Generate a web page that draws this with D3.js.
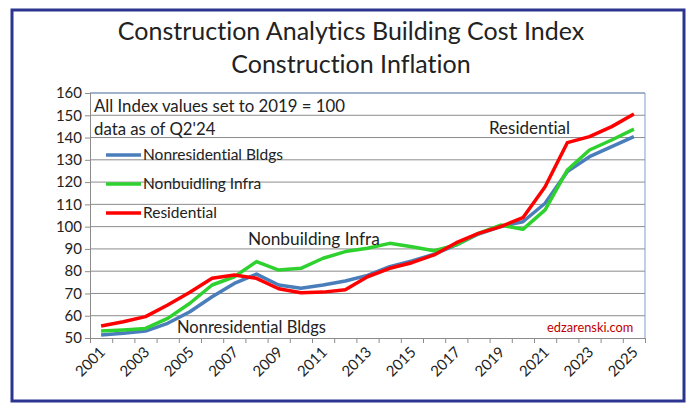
<!DOCTYPE html>
<html>
<head>
<meta charset="utf-8">
<script src="https://cdn.jsdelivr.net/npm/d3@7"></script>
<style>
  body { margin: 0; background: #fff; }
  svg { display: block; font-family: Lato, 'Open Sans', sans-serif; font-variant-ligatures: none; }
  .grid line { stroke: #8c8c8c; stroke-width: 1; }
  .axis path, .axis line { stroke: #8c8c8c; }
  .axis text { fill: #222; }
</style>
</head>
<body>
<svg id="chart"></svg>
<script>
const WIDTH = 688
const HEIGHT = 404

const years = [2001, 2002, 2003, 2004, 2005, 2006, 2007, 2008, 2009, 2010, 2011, 2012, 2013,
  2014, 2015, 2016, 2017, 2018, 2019, 2020, 2021, 2022, 2023, 2024, 2025]
const yTicks = [50, 60, 70, 80, 90, 100, 110, 120, 130, 140, 150, 160]

const nonresidential = [51.3, 52.1, 53.1, 56.6, 61.8, 68.5, 74.5, 78.7, 73.8, 72.3, 73.8, 75.6, 78.1,
  82, 84.6, 87.6, 91.8, 96.7, 100, 102.2, 110.5, 124.7, 131.4, 135.9, 140.4]
const nonbuilding = [53.1, 53.6, 54.3, 58.8, 65.6, 73.8, 77.5, 84.3, 80.5, 81.3, 85.8, 88.8, 90.3,
  92.5, 91, 89.2, 91.8, 97, 100.7, 98.8, 107.5, 125.4, 134.4, 138.9, 143.8]
const residential = [55.4, 57.3, 59.6, 64.8, 70.5, 76.8, 78.3, 76.8, 72.1, 70.3, 70.6, 71.7, 77.5,
  81.3, 83.8, 87.3, 92.8, 97, 100, 104, 117.9, 137.7, 140.4, 144.9, 150.6]

const series = [
  { name: 'Nonresidential Bldgs', values: nonresidential, color: '#4a7ebb' },
  { name: 'Nonbuidling Infra', values: nonbuilding, color: '#2fd12f' },
  { name: 'Residential', values: residential, color: '#ff0000' }
]

const plot = { left: 90, right: 645, top: 93, bottom: 338 }

const svg = d3.select('#chart')
  .attr('width', WIDTH)
  .attr('height', HEIGHT)

// outer frame
svg.append('rect')
  .attr('x', 12).attr('y', 10)
  .attr('width', 672).attr('height', 391)
  .attr('fill', '#fff')
  .attr('stroke', '#2b3590')
  .attr('stroke-width', 3)

svg.append('g')
  .attr('font-size', 25)
  .attr('fill', '#222')
  .attr('text-anchor', 'middle')
  .selectAll('text')
  .data(['Construction Analytics Building Cost Index', 'Construction Inflation'])
  .enter().append('text')
  .attr('x', 351)
  .attr('y', (d, i) => 40 + i * 33)
  .text(d => d)

const x = d3.scaleBand().domain(years).range([plot.left, plot.right])
const xIndex = d3.scaleLinear([0, years.length], [plot.left, plot.right])
const y = d3.scaleLinear([50, 160], [plot.bottom, plot.top])

svg.append('g')
  .attr('class', 'grid')
  .selectAll('line')
  .data(yTicks.slice(1))
  .enter().append('line')
  .attr('x1', plot.left).attr('x2', plot.right)
  .attr('y1', d => y(d)).attr('y2', d => y(d))

// plot area border (top/right)
svg.append('path')
  .attr('d', `M${plot.left},${plot.top}H${plot.right}V${plot.bottom}`)
  .attr('fill', 'none')
  .attr('stroke', '#7f9fd0')

svg.append('g')
  .attr('class', 'axis')
  .attr('transform', `translate(${plot.left},0)`)
  .call(d3.axisLeft(y).tickValues(yTicks).tickSize(5).tickPadding(3))
  .call(g => g.selectAll('text').attr('font-size', 15).attr('font-family', 'Lato, sans-serif'))

svg.append('g')
  .attr('class', 'axis')
  .attr('transform', `translate(0,${plot.bottom})`)
  .call(d3.axisBottom(xIndex).tickValues(d3.range(years.length + 1)).tickSize(5).tickFormat(''))

svg.append('g')
  .selectAll('text')
  .data(years.filter((d, i) => i % 2 === 0))
  .enter().append('text')
  .attr('transform', d => `translate(${x(d) + x.bandwidth() / 2 + 5},${plot.bottom + 15}) rotate(-45)`)
  .attr('text-anchor', 'end')
  .attr('font-size', 15)
  .attr('fill', '#222')
  .text(d => d)

const line = d3.line()
  .x((d, i) => x(years[i]) + x.bandwidth() / 2)
  .y(d => y(d))

svg.append('g')
  .selectAll('path')
  .data(series)
  .enter().append('path')
  .attr('d', d => line(d.values))
  .attr('fill', 'none')
  .attr('stroke', d => d.color)
  .attr('stroke-width', 3.5)
  .attr('stroke-linejoin', 'round')

// legend
const legend = svg.append('g')
  .selectAll('g')
  .data(series)
  .enter().append('g')
  .attr('transform', (d, i) => `translate(106,${155 + i * 29})`)

legend.append('line')
  .attr('x1', 0).attr('x2', 35)
  .attr('stroke', d => d.color)
  .attr('stroke-width', 3.5)

legend.append('text')
  .attr('x', 37).attr('dy', '0.35em')
  .attr('font-size', 15.5)
  .attr('fill', '#222')
  .text(d => d.name)

// notes and labels
const notes = [
  { text: 'All Index values set to 2019 = 100', x: 94, y: 112, size: 16.8, color: '#222' },
  { text: "data as of Q2'24", x: 94, y: 135, size: 16.8, color: '#222' },
  { text: 'Nonbuilding Infra', x: 248, y: 245, size: 17.3, color: '#222' },
  { text: 'Residential', x: 489, y: 134, size: 17, color: '#222' },
  { text: 'Nonresidential Bldgs', x: 177, y: 333, size: 16.5, color: '#222' },
  { text: 'edzarenski.com', x: 547, y: 332, size: 12.8, color: '#c00000' }
]

svg.append('g')
  .selectAll('text')
  .data(notes)
  .enter().append('text')
  .attr('x', d => d.x)
  .attr('y', d => d.y)
  .attr('font-size', d => d.size)
  .attr('fill', d => d.color)
  .text(d => d.text)
</script>
</body>
</html>
